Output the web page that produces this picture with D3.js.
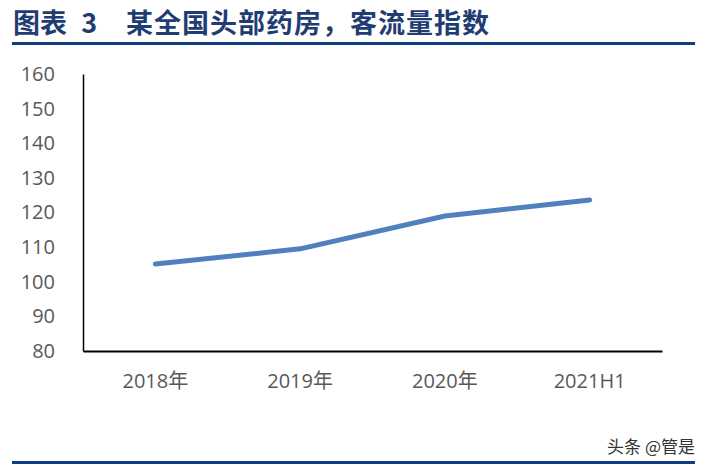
<!DOCTYPE html>
<html>
<head>
<meta charset="utf-8">
<script src="https://cdn.jsdelivr.net/npm/d3@7"></script>
<style>
  body { margin: 0; background: #fff; }
  svg { display: block; }
</style>
</head>
<body>
<svg width="711" height="471"></svg>
<script>
const categories = ['2018年', '2019年', '2020年', '2021H1']
const trafficIndex = [105.1, 109.5, 119.0, 123.6]
const yTicks = [80, 90, 100, 110, 120, 130, 140, 150, 160]

const titleText = '图表 3'
const subtitleText = '某全国头部药房，客流量指数'
const watermark = '头条 @管是'

const svg = d3.select('svg')
const margin = { top: 74, right: 49, bottom: 120, left: 83 }
const width = +svg.attr('width') - margin.left - margin.right
const height = +svg.attr('height') - margin.top - margin.bottom

// header
svg.append('text')
  .attr('x', 13).attr('y', 33)
  .attr('font-family', '"Noto Sans CJK SC", sans-serif')
  .attr('font-weight', 'bold')
  .attr('font-size', '27px')
  .attr('word-spacing', '8px')
  .attr('fill', '#1f3d73')
  .text(titleText)
svg.append('text')
  .attr('x', 126).attr('y', 33)
  .attr('font-family', '"Noto Sans CJK SC", sans-serif')
  .attr('font-weight', 'bold')
  .attr('font-size', '27px')
  .attr('letter-spacing', '1px')
  .attr('fill', '#1f3d73')
  .text(subtitleText)
svg.append('rect')
  .attr('x', 12).attr('y', 42).attr('width', 683).attr('height', 3)
  .attr('fill', '#0d3c7f')

let g = svg.append('g').attr('transform', `translate(${margin.left},${margin.top})`)

let x = d3.scaleBand().domain(categories).range([0, width])
let y = d3.scaleLinear().domain([80, 160]).range([height, 0])

// y axis
let yAxis = g.append('g').call(d3.axisLeft(y).tickValues(yTicks).tickSize(0).tickPadding(28))
yAxis.select('.domain').attr('stroke', '#000').attr('stroke-width', 1.5)
yAxis.selectAll('text')
  .attr('font-family', '"Open Sans", "Noto Sans CJK SC", sans-serif')
  .attr('font-size', '20px')
  .attr('fill', '#595959')

// x axis
let xAxis = g.append('g')
  .attr('transform', `translate(0,${height})`)
  .call(d3.axisBottom(x).tickSize(0).tickPadding(23))
xAxis.select('.domain').attr('stroke', '#000').attr('stroke-width', 2)
xAxis.selectAll('text')
  .attr('font-family', '"Open Sans", "Noto Sans CJK SC", sans-serif')
  .attr('font-size', '20px')
  .attr('fill', '#595959')

// line
let line = d3.line()
  .x((d, i) => x(categories[i]) + x.bandwidth() / 2)
  .y(d => y(d))

g.append('path')
  .datum(trafficIndex)
  .attr('d', line)
  .attr('fill', 'none')
  .attr('stroke', '#4f81bd')
  .attr('stroke-width', 5)
  .attr('stroke-linecap', 'round')
  .attr('stroke-linejoin', 'round')

// footer
svg.append('text')
  .attr('x', 695).attr('y', 453)
  .attr('text-anchor', 'end')
  .attr('font-family', '"Noto Sans CJK SC", sans-serif')
  .attr('font-size', '17px')
  .attr('fill', '#333')
  .text(watermark)
svg.append('rect')
  .attr('x', 12).attr('y', 461).attr('width', 683).attr('height', 3)
  .attr('fill', '#0d3c7f')
</script>
</body>
</html>
